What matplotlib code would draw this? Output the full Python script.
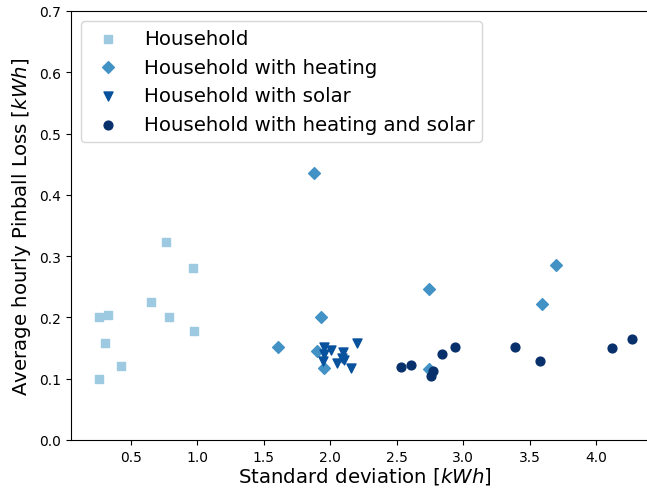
import matplotlib
matplotlib.use("Agg")
import matplotlib.pyplot as plt

# (std deviation [kWh], average hourly pinball loss [kWh]) per household type
hh_std = [0.77, 0.97, 0.65, 0.26, 0.33, 0.79, 0.98, 0.31, 0.43, 0.26]
hh_loss = [0.323, 0.281, 0.225, 0.201, 0.204, 0.201, 0.178, 0.158, 0.121, 0.100]

heat_std = [1.88, 1.93, 1.61, 1.905, 1.955, 2.74, 3.70, 3.59, 2.74]
heat_loss = [0.436, 0.200, 0.151, 0.145, 0.118, 0.246, 0.285, 0.222, 0.116]

solar_std = [1.955, 2.005, 2.20, 1.95, 2.10, 2.088, 2.05, 2.107, 2.156, 1.955]
solar_loss = [0.151, 0.147, 0.158, 0.129, 0.144, 0.133, 0.125, 0.131, 0.118, 0.140]

both_std = [2.53, 2.61, 2.77, 2.76, 2.84, 2.94, 3.39, 3.58, 4.12, 4.27]
both_loss = [0.119, 0.122, 0.113, 0.105, 0.140, 0.151, 0.152, 0.129, 0.150, 0.165]

fig = plt.figure(figsize=(6.47, 4.89), dpi=100)
ax = fig.add_axes([70.7 / 647, 48 / 489, 588 / 647, 429 / 489])

ax.scatter(hh_std, hh_loss, marker="s", s=40, c="#9ecae1", label="Household")
ax.scatter(heat_std, heat_loss, marker="D", s=36, c="#4292c6", label="Household with heating")
ax.scatter(solar_std, solar_loss, marker="v", s=42, c="#08519c", label="Household with solar")
ax.scatter(both_std, both_loss, marker="o", s=40, c="#08306b",
           label="Household with heating and solar")

ax.set_xlim(0.05, 4.47)
ax.set_ylim(0.0, 0.7)
ax.set_xticks([0.5, 1.0, 1.5, 2.0, 2.5, 3.0, 3.5, 4.0])
ax.set_xlabel("Standard deviation [$kWh$]", fontsize=14.2, labelpad=1)
ax.set_ylabel("Average hourly Pinball Loss [$kWh$]", fontsize=14.2)
ax.legend(loc="upper left", fontsize=14.2)

fig.savefig("out.png", dpi=100)
